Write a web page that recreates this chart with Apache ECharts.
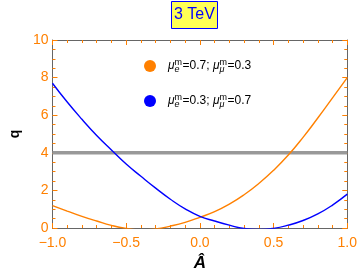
<!DOCTYPE html>
<html>
<head>
<meta charset="utf-8">
<script src="https://cdn.jsdelivr.net/npm/echarts@6/dist/echarts.min.js"></script>
<style>html,body{margin:0;padding:0;background:#fff}#c{width:360px;height:280px}</style>
</head>
<body>
<div id="c"></div>
<script>
// Data
const A = [-1.0,-0.9,-0.8,-0.7,-0.6,-0.5,-0.4,-0.3,-0.2,-0.1,0.0,0.1,0.2,0.3,0.4,0.5,0.6,0.7,0.8,0.9,1.0];
const qOrange = [1.19,0.9,0.62,0.37,0.14,-0.02,-0.1,-0.05,0.1,0.3,0.57,0.87,1.27,1.77,2.37,3.07,3.88,4.82,5.85,6.92,8.0];
const qBlue = [7.7,6.7,5.78,4.92,4.15,3.4,2.75,2.12,1.53,1.02,0.62,0.37,0.15,-0.03,-0.08,-0.02,0.15,0.4,0.75,1.22,1.8];
const refLevel = [4, 4];
const refX = [-1.0, 1.0];
const seriesNames = ['orange', 'blue'];
const legendTexts = {
  orange: '{mu|μ}{sup|m}{sub|e}{t|=0.7; }{mu|μ}{sup|m}{sub|μ}{t|=0.3}',
  blue: '{mu|μ}{sup|m}{sub|e}{t|=0.3; }{mu|μ}{sup|m}{sub|μ}{t|=0.7}'
};
const titleText = '3 TeV';

const ORANGE = '#ff8000';
const BLUE = '#0000ff';
const FRAME = '#666666';
const FONT = '"Liberation Sans", Arial, sans-serif';

const chart = echarts.init(document.getElementById('c'), null, {renderer: 'canvas'});

function xAxisCfg(pos, showLabel) {
  return {
    type: 'value', position: pos, min: -1, max: 1, interval: 0.5,
    axisLine: {show: true, onZero: false, lineStyle: {color: FRAME, width: 1}},
    axisTick: {show: true, inside: true, length: 5, lineStyle: {color: ORANGE, width: 1}},
    minorTick: {show: true, splitNumber: 5, length: 3, lineStyle: {color: ORANGE, width: 1}},
    splitLine: {show: false},
    axisLabel: {show: showLabel, color: ORANGE, fontSize: 14, fontFamily: FONT, margin: 8,
      formatter: v => (v < 0 ? '\u2212' : '') + Math.abs(v).toFixed(1)}
  };
}
function yAxisCfg(pos, showLabel) {
  return {
    type: 'value', position: pos, min: 0, max: 10, interval: 2,
    axisLine: {show: true, onZero: false, lineStyle: {color: FRAME, width: 1}},
    axisTick: {show: true, inside: true, length: 5, lineStyle: {color: ORANGE, width: 1}},
    minorTick: {show: true, splitNumber: 4, length: 3, lineStyle: {color: ORANGE, width: 1}},
    splitLine: {show: false},
    axisLabel: {show: showLabel, color: ORANGE, fontSize: 14, fontFamily: FONT, margin: 4}
  };
}

const xb = xAxisCfg('bottom', true);
xb.name = 'Â';
xb.nameLocation = 'middle';
xb.nameGap = 26;
xb.nameTextStyle = {color: '#000', fontSize: 17, fontWeight: 'bold', fontStyle: 'italic', fontFamily: FONT};
const yl = yAxisCfg('left', true);
yl.name = 'q';
yl.nameLocation = 'middle';
yl.nameGap = 29;
yl.nameRotate = 90;
yl.nameTextStyle = {color: '#000', fontSize: 14, fontWeight: 'bold', fontFamily: FONT};

const option = {
  animation: false,
  backgroundColor: '#fff',
  title: {
    text: titleText, left: 171, top: 1,
    padding: [6, 3],
    backgroundColor: '#ffff55', borderColor: BLUE, borderWidth: 1,
    textStyle: {color: BLUE, fontSize: 16, fontWeight: 'normal', fontFamily: FONT}
  },
  grid: {left: 45, right: 11, top: 40, bottom: 52, containLabel: false},
  xAxis: [xb, xAxisCfg('top', false)],
  yAxis: [yl, yAxisCfg('right', false)],
  legend: {
    data: seriesNames,
    orient: 'vertical', left: 139, top: 53,
    itemWidth: 26, itemHeight: 12, itemGap: 19,
    icon: 'circle',
    formatter: name => legendTexts[name],
    textStyle: {
      fontFamily: FONT, color: '#000',
      rich: {
        mu: {fontSize: 12, fontStyle: 'italic', fontFamily: FONT, lineHeight: 16, verticalAlign: 'middle'},
        sup: {fontSize: 9, fontFamily: FONT, lineHeight: 8, verticalAlign: 'top', width: 0},
        sub: {fontSize: 9, fontFamily: FONT, fontStyle: 'italic', lineHeight: 12, verticalAlign: 'bottom', width: 8},
        t: {fontSize: 12, fontFamily: FONT, lineHeight: 16, verticalAlign: 'middle'}
      }
    }
  },
  series: [
    {
      name: 'ref', type: 'line', xAxisIndex: 0, yAxisIndex: 0,
      data: refX.map((x, i) => [x, refLevel[i]]),
      showSymbol: false, silent: true,
      lineStyle: {color: '#999999', width: 3.5}, itemStyle: {color: '#999999'}
    },
    {
      name: 'orange', type: 'line', xAxisIndex: 0, yAxisIndex: 0,
      data: A.map((x, i) => [x, qOrange[i]]),
      smooth: true, showSymbol: false, clip: true,
      lineStyle: {color: ORANGE, width: 1.4}, itemStyle: {color: ORANGE}
    },
    {
      name: 'blue', type: 'line', xAxisIndex: 0, yAxisIndex: 0,
      data: A.map((x, i) => [x, qBlue[i]]),
      smooth: true, showSymbol: false, clip: true,
      lineStyle: {color: BLUE, width: 1.4}, itemStyle: {color: BLUE}
    }
  ]
};
chart.setOption(option);
</script>
</body>
</html>
